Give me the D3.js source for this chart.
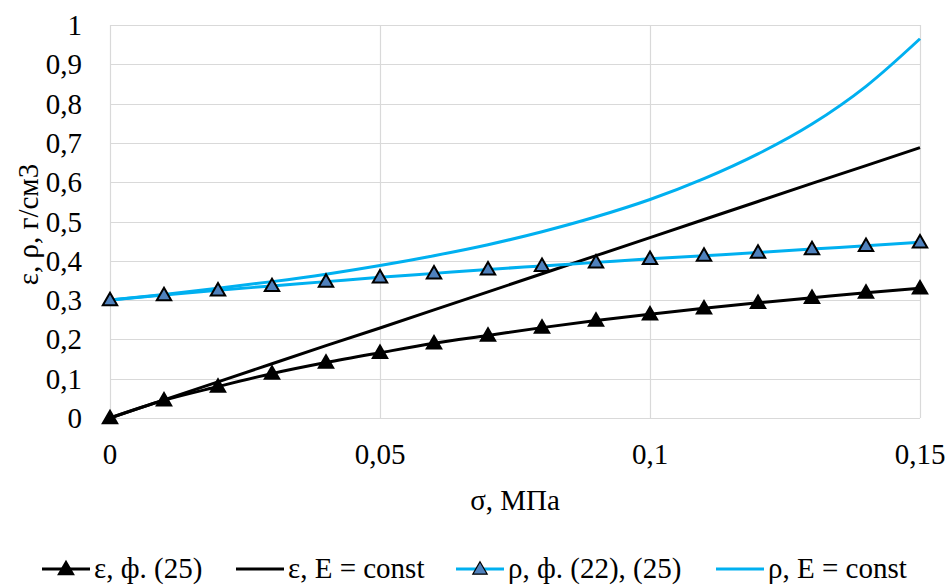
<!DOCTYPE html>
<html>
<head>
<meta charset="utf-8">
<script src="https://cdn.jsdelivr.net/npm/d3@7"></script>
<style>
  body { margin: 0; background: #fff; }
</style>
</head>
<body>
<div id="chart"></div>
<script>
// stress values, MPa
var sigma = [0, 0.01, 0.02, 0.03, 0.04, 0.05, 0.06, 0.07, 0.08, 0.09, 0.10, 0.11, 0.12, 0.13, 0.14, 0.15];

var epsF25   = [0, 0.045, 0.080, 0.113, 0.141, 0.166, 0.190, 0.210, 0.230, 0.248, 0.264, 0.279, 0.293, 0.306, 0.319, 0.330];
var epsConst = [0, 0.046, 0.092, 0.138, 0.184, 0.229, 0.275, 0.321, 0.367, 0.413, 0.459, 0.505, 0.551, 0.597, 0.642, 0.688];
var rhoF22   = [0.300, 0.313, 0.325, 0.336, 0.347, 0.358, 0.368, 0.378, 0.387, 0.396, 0.405, 0.413, 0.421, 0.430, 0.438, 0.447];
var rhoConst = [0.300, 0.314, 0.330, 0.347, 0.366, 0.388, 0.413, 0.441, 0.474, 0.512, 0.556, 0.609, 0.672, 0.748, 0.844, 0.965];

var xTicks = [0, 0.05, 0.1, 0.15];
var yTicks = [0, 0.1, 0.2, 0.3, 0.4, 0.5, 0.6, 0.7, 0.8, 0.9, 1];

var seriesNames = ["ε, ф. (25)", "ε, E = const", "ρ, ф. (22), (25)", "ρ, E = const"];

var w = 948, h = 587;
var m = {left: 110, right: 28, top: 25, bottom: 169};

var svg = d3.select("#chart").append("svg")
    .attr("width", w)
    .attr("height", h);

// every text gets the serif face directly
var txt = function(sel, size) {
  return sel.append("text")
    .style("font-family", "'Liberation Serif'")
    .style("font-size", size + "px")
    .attr("fill", "#000");
};

var x = d3.scaleLinear().domain([0, 0.15]).range([m.left, w - m.right]);
var y = d3.scaleLinear().domain([0, 1]).range([h - m.bottom, m.top]);

var fmt = function(v) { return String(+v.toFixed(2)).replace(".", ","); };

// gridlines
svg.append("g").selectAll("line").data(yTicks).enter().append("line")
    .attr("x1", x(0)).attr("x2", x(0.15))
    .attr("y1", function(d) { return Math.round(y(d)) + 0.5; })
    .attr("y2", function(d) { return Math.round(y(d)) + 0.5; })
    .attr("stroke", "#d9d9d9").attr("stroke-width", 1.2);
svg.append("g").selectAll("line").data(xTicks).enter().append("line")
    .attr("y1", y(0)).attr("y2", y(1))
    .attr("x1", function(d) { return Math.round(x(d)) + 0.5; })
    .attr("x2", function(d) { return Math.round(x(d)) + 0.5; })
    .attr("stroke", "#d9d9d9").attr("stroke-width", 1.2);

// tick labels
var yl = svg.append("g").selectAll("g").data(yTicks).enter().append("g");
txt(yl, 29)
    .attr("x", 82).attr("y", function(d) { return y(d) + 10; })
    .attr("text-anchor", "end")
    .text(fmt);
var xl = svg.append("g").selectAll("g").data(xTicks).enter().append("g");
txt(xl, 29)
    .attr("x", function(d) { return x(d); }).attr("y", 464)
    .attr("text-anchor", "middle")
    .text(fmt);

// axis titles
txt(svg, 29)
    .attr("x", x(0.075)).attr("y", 510)
    .attr("text-anchor", "middle")
    .text("σ, МПа");
txt(svg, 29)
    .attr("transform", "translate(38," + (y(0.5) + 3) + ") rotate(-90)")
    .attr("text-anchor", "middle")
    .text("ε, ρ, г/см3");

// lines
var line = function(vals, curve) {
  return d3.line()
    .x(function(d, i) { return x(sigma[i]); })
    .y(function(d) { return y(d); })
    .curve(curve)(vals);
};

var blue = "#00b0f0";
var triFill = "#4f81bd";

svg.append("path").attr("d", line(rhoConst, d3.curveMonotoneX))
    .attr("fill", "none").attr("stroke", blue).attr("stroke-width", 3);
svg.append("path").attr("d", line(epsConst, d3.curveLinear))
    .attr("fill", "none").attr("stroke", "#000").attr("stroke-width", 3);
svg.append("path").attr("d", line(rhoF22, d3.curveMonotoneX))
    .attr("fill", "none").attr("stroke", blue).attr("stroke-width", 3);
svg.append("path").attr("d", line(epsF25, d3.curveMonotoneX))
    .attr("fill", "none").attr("stroke", "#000").attr("stroke-width", 3);

var tri = d3.symbol().type(d3.symbolTriangle).size(90);

svg.append("g").selectAll("path").data(rhoF22).enter().append("path")
    .attr("d", tri)
    .attr("transform", function(d, i) { return "translate(" + x(sigma[i]) + "," + (y(d) + 1) + ")"; })
    .attr("fill", triFill).attr("stroke", "#000").attr("stroke-width", 2);
svg.append("g").selectAll("path").data(epsF25).enter().append("path")
    .attr("d", tri)
    .attr("transform", function(d, i) { return "translate(" + x(sigma[i]) + "," + (y(d) + 1) + ")"; })
    .attr("fill", "#000").attr("stroke", "#000").attr("stroke-width", 2);

// legend
var legendItems = [
  {name: seriesNames[0], color: "#000", marker: "#000", x: 42},
  {name: seriesNames[1], color: "#000", marker: null, x: 236},
  {name: seriesNames[2], color: blue, marker: triFill, x: 456},
  {name: seriesNames[3], color: blue, marker: null, x: 716}
];
var ly = 569;
var lg = svg.append("g").selectAll("g").data(legendItems).enter().append("g")
    .attr("transform", function(d) { return "translate(" + d.x + "," + ly + ")"; });
lg.append("line").attr("x1", 0).attr("x2", 48).attr("y1", 0).attr("y2", 0)
    .attr("stroke", function(d) { return d.color; }).attr("stroke-width", 3);
lg.filter(function(d) { return d.marker; }).append("path")
    .attr("d", tri).attr("transform", "translate(24,1)")
    .attr("fill", function(d) { return d.marker; })
    .attr("stroke", "#000").attr("stroke-width", function(d) { return d.marker === "#000" ? 2 : 1.2; });
txt(lg, 29).attr("x", 52).attr("y", 9)
    .text(function(d) { return d.name; });
</script>
</body>
</html>
